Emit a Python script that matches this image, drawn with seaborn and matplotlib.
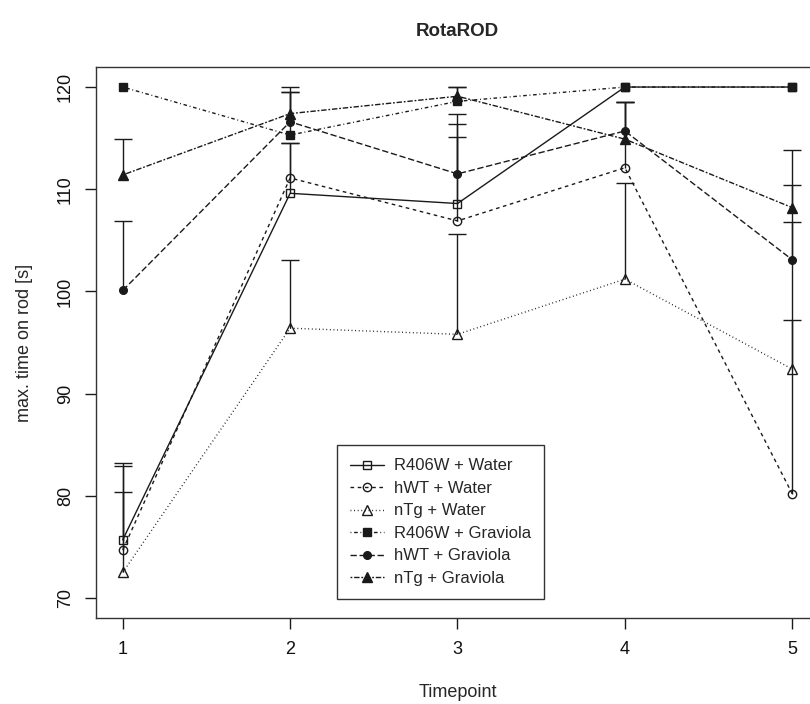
import numpy as np
import pandas as pd
import matplotlib
matplotlib.use("Agg")
import matplotlib.pyplot as plt
import seaborn as sns

# ---- data ----
timepoints = [1, 2, 3, 4, 5]
groups = ["R406W + Water", "hWT + Water", "nTg + Water",
          "R406W + Graviola", "hWT + Graviola", "nTg + Graviola"]

r406w_water = [75.7, 109.6, 108.6, 120.0, 120.0]
hwt_water = [74.7, 111.1, 106.9, 112.1, 80.2]
ntg_water = [72.5, 96.4, 95.8, 101.2, 92.4]
r406w_graviola = [120.0, 115.3, 118.6, 120.0, 120.0]
hwt_graviola = [100.1, 116.6, 111.5, 115.7, 103.1]
ntg_graviola = [111.4, 117.4, 119.1, 114.9, 108.2]

r406w_water_sem = [7.5, 4.9, 6.5, 0.0, 0.0]
hwt_water_sem = [8.2, 3.4, 9.5, 6.4, 17.0]
ntg_water_sem = [7.9, 6.7, 9.8, 9.4, 14.4]
r406w_graviola_sem = [0.0, 4.2, 1.4, 0.0, 0.0]
hwt_graviola_sem = [6.8, 3.4, 5.9, 2.8, 7.3]
ntg_graviola_sem = [3.5, 2.1, 0.9, 3.6, 5.6]

y_ticks = [70, 80, 90, 100, 110, 120]

means = [r406w_water, hwt_water, ntg_water, r406w_graviola, hwt_graviola, ntg_graviola]
sems = [r406w_water_sem, hwt_water_sem, ntg_water_sem,
        r406w_graviola_sem, hwt_graviola_sem, ntg_graviola_sem]

rows = []
for g, m, s in zip(groups, means, sems):
    for t, v, e in zip(timepoints, m, s):
        rows.append({"group": g, "time": t, "value": v, "err": e})
df = pd.DataFrame(rows)

# ---- styles (R lty / pch equivalents) ----
u = 0.65
styles = {
    "R406W + Water": dict(ls="-", marker="s", filled=False, ms=6.0),
    "hWT + Water": dict(ls=(0, (4 * u, 4 * u)), marker="o", filled=False, ms=6.0),
    "nTg + Water": dict(ls=(0, (1 * u, 3 * u)), marker="^", filled=False, ms=7.0),
    "R406W + Graviola": dict(ls=(0, (1 * u, 3 * u, 4 * u, 3 * u)), marker="s", filled=True, ms=5.5),
    "hWT + Graviola": dict(ls=(0, (7 * u, 3 * u)), marker="o", filled=True, ms=5.5),
    "nTg + Graviola": dict(ls=(0, (2 * u, 2 * u, 6 * u, 2 * u)), marker="^", filled=True, ms=6.5),
}

sns.set_style("ticks")
plt.rcParams["font.family"] = ["Liberation Sans", "DejaVu Sans"]

fig = plt.figure(figsize=(8.10, 7.04), dpi=100)
W, H = 810.0, 704.0
left, right, top, bottom = 96.0, 819.0, 66.6, 618.4
ax = fig.add_axes([left / W, 1 - bottom / H, (right - left) / W, (bottom - top) / H])

col = "#1a1a1a"
lw = 1.0

# error bars (upper only, R arrows style)
for g in groups:
    sub = df[(df["group"] == g) & (df["err"] > 0)]
    ax.vlines(sub["time"], sub["value"], sub["value"] + sub["err"], color=col, lw=lw, zorder=1.5)
    ax.plot(sub["time"], sub["value"] + sub["err"], ls="none", marker="_", ms=13.5,
            mew=lw, color=col, zorder=1.5)

# lines with markers
for g in groups:
    st = styles[g]
    sub = df[df["group"] == g]
    sns.lineplot(data=sub, x="time", y="value", ax=ax, errorbar=None,
                 color=col, lw=lw, linestyle=st["ls"], marker=st["marker"],
                 markersize=st["ms"], markeredgecolor=col, markeredgewidth=1.0,
                 markerfacecolor=(col if st["filled"] else "none"),
                 label=g, legend=False, zorder=2)

ax.set_xlim(0.84, 5.16)
ax.set_ylim(68, 122)
ax.set_xticks(timepoints)
ax.set_xticklabels([str(t) for t in timepoints])
ax.set_yticks(y_ticks)
ax.set_yticklabels([str(v) for v in y_ticks], rotation=90, va="center")
ax.tick_params(axis="both", direction="out", length=8, width=1.0, color=col,
               labelsize=13, labelcolor="#111111")
ax.tick_params(axis="x", pad=8)
ax.tick_params(axis="y", pad=8)

for sp in ax.spines.values():
    sp.set_visible(True)
    sp.set_color("#333333")
    sp.set_linewidth(1.0)

ax.set_title("RotaROD", fontsize=13.5, fontweight="bold", pad=22)
ax.set_xlabel("Timepoint", fontsize=13)
ax.set_ylabel("max. time on rod [s]", fontsize=13)
ax.xaxis.set_label_coords(0.5, -0.118)
ax.yaxis.set_label_coords(-0.087, 0.5)

handles, labels = ax.get_legend_handles_labels()
leg = ax.legend(handles, labels, loc="upper left",
                bbox_to_anchor=(337 / W, 1 - 445 / H), bbox_transform=fig.transFigure,
                borderaxespad=0, fontsize=12, frameon=True, fancybox=False,
                edgecolor="#333333", framealpha=1, handlelength=2.0,
                handletextpad=0.6, labelspacing=0.45, borderpad=0.8, numpoints=1)
leg.get_frame().set_linewidth(1.0)

fig.savefig("out.png", dpi=100)
